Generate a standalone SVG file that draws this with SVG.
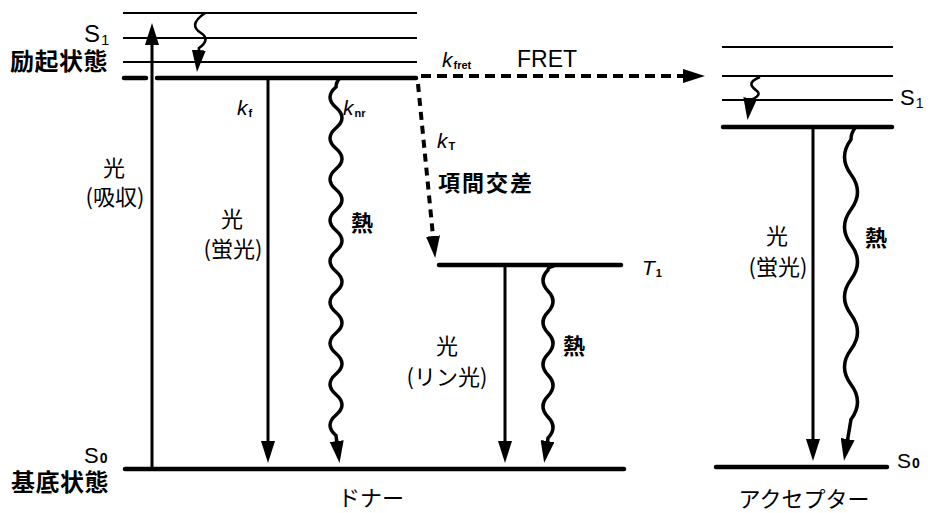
<svg xmlns="http://www.w3.org/2000/svg" width="933" height="513" viewBox="0 0 933 513">
<style>
.thin{stroke:#000;stroke-width:2;fill:none}
.thick{stroke:#000;stroke-width:4.5;fill:none;stroke-linecap:round}
.arr{stroke:#000;stroke-width:3;fill:none;marker-end:url(#ah)}
.wave{stroke:#000;stroke-width:3.5;fill:none;marker-end:url(#ah)}
.sw{stroke:#000;stroke-width:2.6;fill:none;marker-end:url(#ah)}
.dash{stroke:#000;stroke-width:4;fill:none;stroke-dasharray:10 6;marker-end:url(#ah)}
.jp{font-family:"Noto Sans CJK JP","Noto Sans",sans-serif;font-size:22px;fill:#000}
.jb{font-family:"Noto Sans CJK JP","Noto Sans",sans-serif;font-weight:bold;fill:#000}
.la{font-family:"Liberation Sans",Arial,sans-serif;fill:#000}
.k{font-family:"Liberation Sans",Arial,sans-serif;font-style:italic;font-size:21px;fill:#000}
.sub{font-size:11px;font-style:normal;font-weight:bold}
.c{text-anchor:middle}
</style>
<defs>
<marker id="ah" viewBox="0 0 22 14" refX="10" refY="7" markerWidth="22" markerHeight="14" markerUnits="userSpaceOnUse" orient="auto">
<path d="M0,0 L22,7 L0,14 z" fill="#000"/>
</marker>
</defs>
<rect width="933" height="513" fill="#fff"/>

<g id="donor-levels">
<line class="thin" x1="123" y1="13" x2="417" y2="13"/>
<line class="thin" x1="123" y1="38" x2="417" y2="38"/>
<line class="thin" x1="123" y1="62" x2="417" y2="62"/>
<line class="thick" x1="124" y1="78" x2="146" y2="78"/>
<line class="thick" x1="157" y1="78" x2="416" y2="78"/>
<line class="thick" x1="125" y1="469" x2="624" y2="469"/>
<line class="thick" x1="439" y1="265" x2="621" y2="265"/>
</g>

<g id="acceptor-levels">
<line class="thin" x1="722" y1="47" x2="893" y2="47"/>
<line class="thin" x1="722" y1="76" x2="893" y2="76"/>
<line class="thin" x1="722" y1="100" x2="893" y2="100"/>
<line class="thick" x1="723" y1="127" x2="892" y2="127"/>
<line class="thick" x1="716" y1="467" x2="887" y2="467"/>
</g>

<g id="connectors">
<path class="arr" d="M152,469 L152,35"/>
<path class="sw" d="M205,13 C192,22 193,28 201,33 C209,38 205,44 199,48 L198,60"/>
<path class="arr" d="M268,80 L268,451"/>
<path class="wave" d="M340,78 Q336,82 336,87 q-12,10.25 0,20.5 t0,20.5 t0,20.5 t0,20.5 t0,20.5 t0,20.5 t0,20.5 t0,20.5 t0,20.5 t0,20.5 t0,20.5 t0,20.5 t0,20.5 t0,20.5 t0,20.5 t0,20.5 t0,20.5 L338,451"/>
<path class="dash" d="M421,76 L693,76"/>
<path class="dash" style="stroke-dasharray:8 6" d="M418,84 L434,246"/>
<path class="arr" d="M505,267 L505,451"/>
<path class="wave" d="M554,266 Q548,267 548,270 q-10,10.5 0,21 t0,21 t0,21 t0,21 t0,21 t0,21 t0,21 t0,21 L546,451"/>
<path class="sw" d="M760,77 C748,82 750,86 757,91 C762,95 754,99 750,100 L749,108"/>
<path class="arr" d="M813,129 L813,449"/>
<path class="wave" d="M855,128 Q851,133 851,139.5 q-13,17.5 0,35 t0,35 t0,35 t0,35 t0,35 t0,35 t0,35 t0,35 L846,449"/>
</g>

<g id="labels-left">
<text class="la" x="84" y="42" font-size="24">S<tspan font-size="15" dx="1" dy="3">1</tspan></text>
<text class="jb" x="10" y="70" font-size="24" letter-spacing="0.5">励起状態</text>
<text class="la" x="84" y="463" font-size="22">S<tspan font-size="14" font-weight="bold" dx="1">0</tspan></text>
<text class="jb" x="11" y="491" font-size="24" letter-spacing="0.5">基底状態</text>
</g>

<g id="labels-donor">
<text class="jp c" x="114" y="176">光</text>
<text class="jp c" x="115" y="205">(吸収)</text>
<text class="k" x="237" y="115">k<tspan class="sub" dx="1" dy="2">f</tspan></text>
<text class="k" x="343" y="115">k<tspan class="sub" dx="1" dy="2">nr</tspan></text>
<text class="jp c" x="232" y="227">光</text>
<text class="jp c" x="233" y="257">(蛍光)</text>
<text class="jb c" x="362" y="231" font-size="22">熱</text>
<text class="jp c" x="371" y="506" font-size="21">ドナー</text>
</g>

<g id="labels-transfer">
<text class="k" x="442" y="67">k<tspan class="sub" dx="1" dy="2">fret</tspan></text>
<text class="la" x="517" y="67" font-size="23">FRET</text>
<text class="k" x="437" y="148">k<tspan class="sub" dx="1" dy="2">T</tspan></text>
<text class="jb" x="438" y="191" font-size="22" letter-spacing="2">項間交差</text>
</g>

<g id="labels-triplet">
<text class="k" x="642" y="275" font-size="20">T<tspan class="sub" font-size="12" dx="1" dy="2">1</tspan></text>
<text class="jp c" x="447" y="354">光</text>
<text class="jp c" x="447" y="385">(リン光)</text>
<text class="jb c" x="574" y="354" font-size="22">熱</text>
</g>

<g id="labels-acceptor">
<text class="la" x="900" y="105" font-size="22">S<tspan font-size="14" dx="1" dy="3">1</tspan></text>
<text class="jp c" x="777" y="244">光</text>
<text class="jp c" x="778" y="275">(蛍光)</text>
<text class="jb c" x="876" y="246" font-size="22">熱</text>
<text class="la" x="897" y="468" font-size="21">S<tspan font-size="14" font-weight="bold" dx="1">0</tspan></text>
<text class="jp c" x="804" y="507" font-size="20.5">アクセプター</text>
</g>
</svg>
